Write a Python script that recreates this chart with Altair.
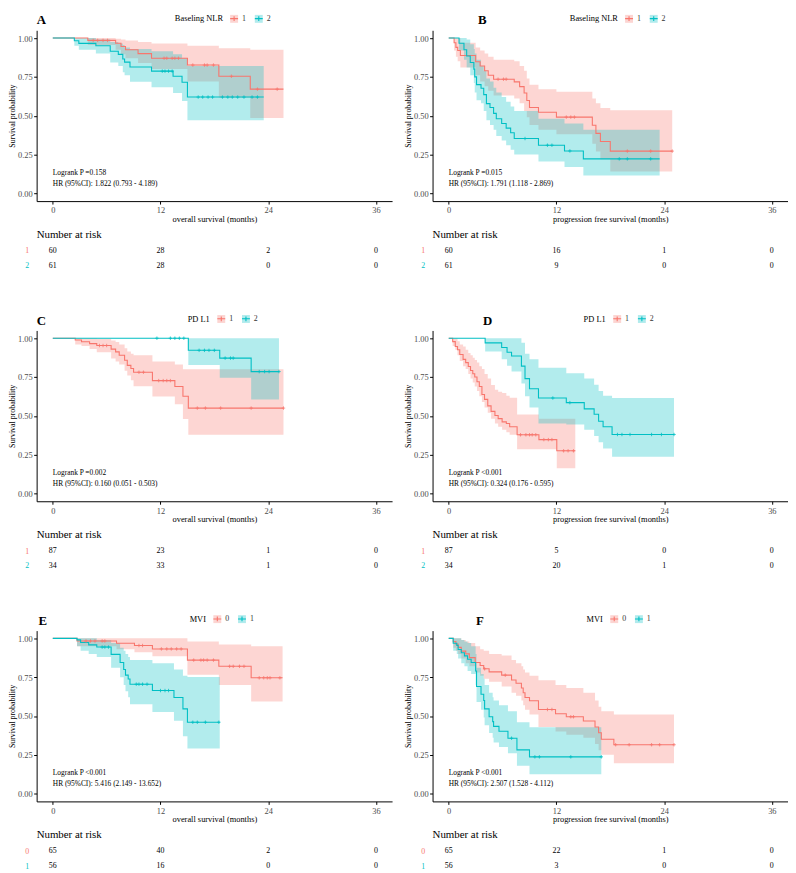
import altair as alt
import pandas as pd

RED = "#F8766D"
TEAL = "#00BFC4"
FONT = "Liberation Serif"
RISK_TIMES = [0, 12, 24, 36]

# ---------------- Panel A (OS, Baseling NLR) ----------------
A1_T = [0, 3.9, 7.0, 7.6, 8.1, 9.5, 11.0, 15.0, 18.5, 22.0]
A1_S = [1, 0.985, 0.967, 0.946, 0.925, 0.90, 0.87, 0.826, 0.754, 0.671]
A1_HI = [1, 1, 0.995, 0.99, 0.985, 0.975, 0.965, 0.95, 0.935, 0.925]
A1_LO = [1, 0.955, 0.925, 0.895, 0.87, 0.84, 0.80, 0.72, 0.615, 0.485]
A1_END = 25.7
A1_CENS = [4.5, 5.0, 5.6, 6.1, 12.4, 12.7, 13.3, 13.6, 14.0, 15.6, 16.9, 17.2, 17.9, 19.9, 22.8, 25.0]
A2_T = [0, 2.4, 2.9, 4.8, 6.4, 7.3, 7.8, 8.0, 8.6, 11.0, 13.4, 14.4, 15.0]
A2_S = [1, 0.983, 0.966, 0.951, 0.915, 0.895, 0.865, 0.845, 0.814, 0.787, 0.754, 0.715, 0.62]
A2_HI = [1, 1, 1, 0.99, 0.975, 0.965, 0.955, 0.94, 0.93, 0.915, 0.895, 0.87, 0.82]
A2_LO = [1, 0.95, 0.925, 0.90, 0.843, 0.82, 0.78, 0.76, 0.718, 0.683, 0.647, 0.594, 0.47]
A2_END = 23.5
A2_CENS = [12.2, 12.5, 12.9, 13.3, 16.2, 16.7, 17.3, 17.8, 18.9, 19.5, 20.0, 20.6, 21.3, 22.2, 22.8]
A_RISK1 = [60, 28, 2, 0]
A_RISK2 = [61, 28, 0, 0]

# ---------------- Panel B (PFS, Baseling NLR) ----------------
B1_T = [0, 0.6, 0.8, 1.0, 1.3, 3.0, 3.5, 4.0, 4.4, 5.0, 7.3, 7.9, 8.4, 8.7, 9.0, 10.0, 12.0, 16.0, 16.4, 16.9, 18.0]
B1_S = [1, 0.97, 0.94, 0.92, 0.888, 0.847, 0.82, 0.79, 0.76, 0.735, 0.718, 0.687, 0.646, 0.598, 0.553, 0.522, 0.491, 0.439, 0.386, 0.334, 0.272]
B1_HI = [1, 1, 1, 1, 0.97, 0.94, 0.92, 0.90, 0.88, 0.86, 0.85, 0.82, 0.79, 0.74, 0.70, 0.67, 0.655, 0.61, 0.58, 0.55, 0.535]
B1_LO = [1, 0.92, 0.88, 0.85, 0.81, 0.76, 0.72, 0.69, 0.66, 0.63, 0.61, 0.58, 0.53, 0.49, 0.44, 0.41, 0.38, 0.32, 0.27, 0.22, 0.14]
B1_END = 24.9
B1_CENS = [5.5, 6.1, 6.4, 13.1, 13.6, 14.0, 19.9, 22.5, 24.9]
B2_T = [0, 1.15, 1.7, 2.0, 2.4, 2.8, 2.9, 3.1, 3.6, 3.9, 4.2, 4.6, 5.0, 5.3, 5.9, 6.4, 6.9, 7.3, 10.0, 12.9, 15.0]
B2_S = [1, 0.967, 0.925, 0.884, 0.843, 0.80, 0.75, 0.70, 0.677, 0.636, 0.578, 0.553, 0.515, 0.48, 0.45, 0.42, 0.39, 0.353, 0.31, 0.273, 0.222]
B2_HI = [1, 1, 1, 0.99, 0.96, 0.93, 0.90, 0.86, 0.82, 0.79, 0.74, 0.72, 0.68, 0.65, 0.62, 0.59, 0.56, 0.53, 0.48, 0.45, 0.41]
B2_LO = [1, 0.92, 0.86, 0.81, 0.76, 0.71, 0.65, 0.60, 0.58, 0.53, 0.47, 0.44, 0.41, 0.37, 0.34, 0.31, 0.28, 0.25, 0.205, 0.17, 0.115]
B2_END = 23.5
B2_CENS = [8.5, 11.0, 11.5, 13.5, 19.0, 19.9, 22.5]
B_RISK1 = [60, 16, 1, 0]
B_RISK2 = [61, 9, 0, 0]

# ---------------- Panel C (OS, PD L1) ----------------
C1_T = [0, 2.5, 3.2, 4.1, 4.9, 6.5, 7.0, 7.4, 8.0, 8.3, 8.7, 9.0, 11.1, 13.6, 14.5, 15.1]
C1_S = [1, 0.988, 0.977, 0.965, 0.953, 0.93, 0.912, 0.89, 0.858, 0.825, 0.805, 0.781, 0.727, 0.689, 0.626, 0.55]
C1_HI = [1, 1, 1, 1, 0.995, 0.985, 0.975, 0.96, 0.935, 0.915, 0.90, 0.89, 0.85, 0.83, 0.80, 0.80]
C1_LO = [1, 0.96, 0.95, 0.93, 0.91, 0.87, 0.85, 0.83, 0.79, 0.76, 0.73, 0.69, 0.625, 0.575, 0.48, 0.378]
C1_END = 25.7
C1_CENS = [5.2, 5.6, 6.0, 9.6, 10.1, 11.8, 12.3, 12.7, 13.1, 16.1, 17.0, 18.7, 22.1, 25.7]
C2_T = [0, 15.1, 18.6, 22.1]
C2_S = [1, 0.922, 0.872, 0.785]
C2_HI = [1, 1, 1, 1]
C2_LO = [1, 0.827, 0.746, 0.605]
C2_END = 25.2
C2_CENS = [11.6, 13.1, 13.6, 14.1, 14.6, 16.3, 16.9, 17.4, 18.0, 19.2, 19.8, 20.1, 23.0, 23.6, 24.1, 25.2]
C_RISK1 = [87, 23, 1, 0]
C_RISK2 = [34, 33, 1, 0]

# ---------------- Panel D (PFS, PD L1) ----------------
D1_T = [0, 0.44, 0.73, 0.98, 1.23, 1.6, 1.89, 2.18, 2.43, 2.68, 2.9, 3.15, 3.41, 3.7, 3.99, 4.35, 4.72, 5.15, 5.51, 5.95, 6.42, 6.79, 7.62, 10.05, 12.04]
D1_S = [1, 0.978, 0.947, 0.926, 0.895, 0.864, 0.843, 0.818, 0.792, 0.771, 0.75, 0.72, 0.689, 0.637, 0.606, 0.564, 0.529, 0.502, 0.482, 0.461, 0.451, 0.43, 0.378, 0.347, 0.275]
D1_HI = [1, 1, 1, 0.98, 0.96, 0.947, 0.925, 0.905, 0.89, 0.874, 0.86, 0.843, 0.82, 0.802, 0.77, 0.74, 0.699, 0.668, 0.655, 0.647, 0.63, 0.616, 0.508, 0.482, 0.482]
D1_LO = [1, 0.95, 0.926, 0.89, 0.854, 0.82, 0.802, 0.77, 0.74, 0.715, 0.689, 0.66, 0.627, 0.59, 0.554, 0.52, 0.482, 0.451, 0.43, 0.41, 0.395, 0.378, 0.285, 0.285, 0.162]
D1_END = 14.1
D1_CENS = [8.0, 8.6, 9.0, 9.3, 9.7, 10.6, 11.1, 11.5, 12.8, 13.3, 13.9]
D2_T = [0, 4.06, 5.9, 6.5, 7.0, 8.1, 8.5, 9.0, 10.0, 13.1, 15.1, 16.2, 16.7, 17.2, 18.2]
D2_S = [1, 0.97, 0.94, 0.91, 0.885, 0.82, 0.74, 0.675, 0.615, 0.585, 0.545, 0.51, 0.465, 0.43, 0.38]
D2_HI = [1, 1, 1, 1, 1, 0.97, 0.90, 0.865, 0.81, 0.775, 0.74, 0.70, 0.66, 0.63, 0.615]
D2_LO = [1, 0.915, 0.864, 0.822, 0.785, 0.709, 0.626, 0.554, 0.45, 0.445, 0.41, 0.37, 0.33, 0.29, 0.237]
D2_END = 25.1
D2_CENS = [11.6, 13.5, 18.8, 19.3, 20.2, 22.6, 23.7, 25.1]
D_RISK1 = [87, 5, 0, 0]
D_RISK2 = [34, 20, 1, 0]

# ---------------- Panel E (OS, MVI) ----------------
E1_T = [0, 2.7, 7.1, 9.1, 11.1, 15.0, 18.5, 22.1]
E1_S = [1, 0.983, 0.969, 0.954, 0.932, 0.86, 0.82, 0.746]
E1_HI = [1, 1, 1, 1, 1, 0.98, 0.96, 0.95]
E1_LO = [1, 0.95, 0.93, 0.91, 0.885, 0.765, 0.70, 0.594]
E1_END = 25.6
E1_CENS = [3.7, 4.2, 4.7, 5.5, 5.8, 9.6, 10.0, 12.1, 12.7, 13.2, 13.8, 14.3, 15.7, 16.5, 16.8, 17.2, 17.9,
           19.7, 20.1, 20.8, 21.3, 23.0, 23.5, 23.9, 24.2, 25.3]
E2_T = [0, 2.7, 3.1, 4.0, 4.9, 6.5, 7.5, 7.9, 8.1, 8.4, 8.6, 11.1, 13.5, 14.5, 15.0]
E2_S = [1, 0.99, 0.973, 0.958, 0.944, 0.897, 0.845, 0.80, 0.763, 0.738, 0.705, 0.664, 0.619, 0.546, 0.46]
E2_HI = [1, 1, 1, 1, 0.99, 0.97, 0.94, 0.92, 0.90, 0.88, 0.86, 0.84, 0.80, 0.76, 0.752]
E2_LO = [1, 0.95, 0.92, 0.90, 0.88, 0.81, 0.75, 0.70, 0.66, 0.62, 0.575, 0.525, 0.47, 0.37, 0.29]
E2_END = 18.6
E2_CENS = [5.5, 5.8, 6.2, 9.3, 9.6, 10.0, 10.5, 12.0, 12.5, 12.9, 15.6, 16.1, 17.0, 18.5]
E_RISK1 = [65, 40, 2, 0]
E_RISK2 = [56, 16, 0, 0]

# ---------------- Panel F (PFS, MVI) ----------------
F1_T = [0, 0.5, 0.8, 1.05, 1.4, 1.9, 2.3, 2.95, 3.5, 3.9, 4.5, 5.9, 7.0, 7.5, 8.1, 8.3, 8.5, 9.0, 10.0, 11.9, 13.1, 15.0, 16.3, 16.7, 17.0, 18.4]
F1_S = [1, 0.979, 0.963, 0.942, 0.918, 0.9, 0.876, 0.845, 0.825, 0.804, 0.784, 0.763, 0.732, 0.711, 0.68, 0.65, 0.619, 0.598, 0.542, 0.515, 0.495, 0.468, 0.429, 0.392, 0.35, 0.315]
F1_HI = [1, 1, 1, 1, 0.99, 0.98, 0.97, 0.95, 0.93, 0.92, 0.90, 0.89, 0.86, 0.84, 0.82, 0.80, 0.78, 0.76, 0.73, 0.70, 0.68, 0.65, 0.60, 0.56, 0.53, 0.51]
F1_LO = [1, 0.94, 0.92, 0.90, 0.87, 0.84, 0.82, 0.78, 0.76, 0.74, 0.72, 0.69, 0.65, 0.63, 0.60, 0.57, 0.54, 0.51, 0.43, 0.40, 0.38, 0.36, 0.32, 0.28, 0.25, 0.195]
F1_END = 25.1
F1_CENS = [4.0, 6.3, 11.0, 11.5, 13.6, 13.9, 18.6, 20.1, 22.6, 23.5, 25.1]
F2_T = [0, 0.5, 0.9, 1.05, 1.4, 1.75, 2.1, 2.5, 3.0, 3.1, 3.6, 3.9, 4.0, 4.5, 4.9, 5.0, 5.6, 6.6, 7.6, 9.0]
F2_S = [1, 0.969, 0.955, 0.928, 0.907, 0.887, 0.866, 0.845, 0.79, 0.69, 0.64, 0.60, 0.546, 0.495, 0.464, 0.433, 0.402, 0.357, 0.282, 0.237]
F2_HI = [1, 1, 1, 1, 0.99, 0.98, 0.97, 0.95, 0.90, 0.81, 0.77, 0.74, 0.70, 0.65, 0.62, 0.60, 0.57, 0.53, 0.46, 0.427]
F2_LO = [1, 0.92, 0.90, 0.87, 0.84, 0.82, 0.79, 0.77, 0.70, 0.59, 0.54, 0.49, 0.44, 0.39, 0.36, 0.33, 0.30, 0.26, 0.18, 0.125]
F2_END = 17.0
F2_CENS = [7.0, 9.6, 10.1, 13.6, 17.0]
F_RISK1 = [65, 22, 1, 0]
F_RISK2 = [56, 3, 0, 0]

W = 360
H = 173


def step_value(ts, vs, x):
    val = vs[0]
    for t, v in zip(ts, vs):
        if t <= x:
            val = v
    return val


def curve_rows(grp, ts, ss, los, his, end):
    rows = [dict(grp=grp, grpf=grp + " ", t=t, s=s, lo=lo, hi=hi) for t, s, lo, hi in zip(ts, ss, los, his)]
    rows.append(dict(grp=grp, grpf=grp + " ", t=end, s=ss[-1], lo=los[-1], hi=his[-1]))
    return rows


def legend_common(title, leg_x):
    return dict(title=title, orient="none", legendX=leg_x, legendY=-17, direction="horizontal",
                titleOrient="left", symbolSize=64, symbolStrokeWidth=1.1, labelFontSize=8,
                titleFontSize=8.5, titleFontWeight="normal", labelOffset=3, columnPadding=6,
                titlePadding=6, padding=0)


def panel(letter, letter_dx, leg_title, leg_x, groups, c1, c2, xtitle, ptxt, hrtxt, risk1, risk2):
    cdf = pd.DataFrame(curve_rows(groups[0], *c1[:5]) + curve_rows(groups[1], *c2[:5]))
    cens = []
    for g, c in ((groups[0], c1), (groups[1], c2)):
        for x in c[5]:
            cens.append(dict(grp=g, t=x, s=step_value(c[0], c[1], x)))
    cens_df = pd.DataFrame(cens)

    xs = alt.Scale(domain=[-1.8, 37.8], nice=False, zero=False)
    ys = alt.Scale(domain=[-0.05, 1.05], nice=False, zero=False)
    cs = alt.Scale(domain=groups, range=[RED, TEAL])
    fs = alt.Scale(domain=[g + " " for g in groups], range=[RED, TEAL])
    xax = alt.Axis(values=RISK_TIMES, title=xtitle, grid=False, domainColor="black", tickColor="black",
                   tickSize=3, labelColor="#4D4D4D", labelFontSize=8.5, titleFontSize=8.5,
                   titleFontWeight="normal", labelPadding=2, titlePadding=0, titleColor="black")
    yax = alt.Axis(values=[0, 0.25, 0.5, 0.75, 1.0], format=".2f", title="Survival probability", grid=False,
                   domainColor="black", tickColor="black", tickSize=3, labelColor="#4D4D4D",
                   labelFontSize=8.5, titleFontSize=8, titleFontWeight="normal", labelPadding=1.5,
                   titlePadding=1, titleColor="black")

    band = alt.Chart(cdf).mark_area(interpolate="step-after", opacity=0.3).encode(
        x=alt.X("t:Q", scale=xs, axis=xax),
        y=alt.Y("hi:Q", scale=ys, axis=yax),
        y2="lo:Q",
        fill=alt.Fill("grpf:N", scale=fs, legend=alt.Legend(
            symbolType="square", symbolOpacity=0.3, symbolStrokeColor="transparent",
            titleColor="transparent", labelColor="transparent", labelExpr="trim(datum.label)",
            **legend_common(leg_title, leg_x))),
    )
    line = alt.Chart(cdf).mark_line(interpolate="step-after", strokeWidth=1.1).encode(
        x=alt.X("t:Q", scale=xs),
        y=alt.Y("s:Q", scale=ys),
        color=alt.Color("grp:N", scale=cs, legend=alt.Legend(
            symbolType="M-1,0H1M0,-0.6V0.6", symbolOpacity=1, titleColor="black",
            labelColor="#333333", **legend_common(leg_title, leg_x))),
    )
    pts = alt.Chart(cens_df).mark_point(shape="M0,-1V1M-1,0H1", size=12, strokeWidth=0.8, filled=False,
                                        opacity=1).encode(
        x=alt.X("t:Q", scale=xs),
        y=alt.Y("s:Q", scale=ys),
        color=alt.Color("grp:N", scale=cs),
    )
    t1 = alt.Chart(pd.DataFrame({"label": [ptxt]})).mark_text(
        align="left", baseline="middle", font=FONT, fontSize=7.5, color="black").encode(
        x=alt.datum(0), y=alt.datum(0.13), text="label:N")
    t2 = alt.Chart(pd.DataFrame({"label": [hrtxt]})).mark_text(
        align="left", baseline="middle", font=FONT, fontSize=7.5, color="black").encode(
        x=alt.datum(0), y=alt.datum(0.063), text="label:N")

    km = alt.layer(band, line, pts, t1, t2).properties(
        width=W, height=H,
        title=alt.TitleParams(letter, anchor="start", frame="group", dx=letter_dx, fontSize=13,
                              fontWeight="bold", font=FONT, offset=-14, color="black"),
    )

    rdf = pd.DataFrame({
        "grp": [groups[0]] * 4 + [groups[1]] * 4,
        "t": RISK_TIMES * 2,
        "n": risk1 + risk2,
    })
    label_color = {"condition": {"test": f"datum.value == '{groups[0]}'", "value": RED}, "value": TEAL}
    risk = alt.Chart(rdf).mark_text(font=FONT, fontSize=8, color="black").encode(
        x=alt.X("t:Q", scale=xs, axis=None),
        y=alt.Y("grp:N", sort=groups, scale=alt.Scale(domain=groups),
                axis=alt.Axis(title=None, domain=False, ticks=False, labelColor=label_color,
                              labelFontSize=8, labelPadding=8)),
        text="n:Q",
    ).properties(
        width=W, height=30,
        title=alt.TitleParams("Number at risk", anchor="start", frame="group", fontSize=11,
                              fontWeight="normal", font=FONT, offset=4, color="black"),
    )
    return alt.vconcat(km, risk, spacing=6).resolve_scale(
        x="independent", y="independent", color="independent", fill="independent").resolve_legend(
        color="independent", fill="independent")


OS = "overall survival (months)"
PFS = "progression free survival (months)"

pA = panel("A", 0, "Baseling NLR", 140, ["1", "2"],
           (A1_T, A1_S, A1_LO, A1_HI, A1_END, A1_CENS), (A2_T, A2_S, A2_LO, A2_HI, A2_END, A2_CENS),
           OS, "Logrank P =0.158", "HR (95%CI): 1.822 (0.793 - 4.189)", A_RISK1, A_RISK2)
pB = panel("B", 46, "Baseling NLR", 139, ["1", "2"],
           (B1_T, B1_S, B1_LO, B1_HI, B1_END, B1_CENS), (B2_T, B2_S, B2_LO, B2_HI, B2_END, B2_CENS),
           PFS, "Logrank P =0.015", "HR (95%CI): 1.791 (1.118 - 2.869)", B_RISK1, B_RISK2)
pC = panel("C", 0, "PD L1", 153, ["1", "2"],
           (C1_T, C1_S, C1_LO, C1_HI, C1_END, C1_CENS), (C2_T, C2_S, C2_LO, C2_HI, C2_END, C2_CENS),
           OS, "Logrank P =0.002", "HR (95%CI): 0.160 (0.051 - 0.503)", C_RISK1, C_RISK2)
pD = panel("D", 51, "PD L1", 153, ["1", "2"],
           (D1_T, D1_S, D1_LO, D1_HI, D1_END, D1_CENS), (D2_T, D2_S, D2_LO, D2_HI, D2_END, D2_CENS),
           PFS, "Logrank P <0.001", "HR (95%CI): 0.324 (0.176 - 0.595)", D_RISK1, D_RISK2)
pE = panel("E", 2, "MVI", 155, ["0", "1"],
           (E1_T, E1_S, E1_LO, E1_HI, E1_END, E1_CENS), (E2_T, E2_S, E2_LO, E2_HI, E2_END, E2_CENS),
           OS, "Logrank P <0.001", "HR (95%CI): 5.416 (2.149 - 13.652)", E_RISK1, E_RISK2)
pF = panel("F", 44, "MVI", 156, ["0", "1"],
           (F1_T, F1_S, F1_LO, F1_HI, F1_END, F1_CENS), (F2_T, F2_S, F2_LO, F2_HI, F2_END, F2_CENS),
           PFS, "Logrank P <0.001", "HR (95%CI): 2.507 (1.528 - 4.112)", F_RISK1, F_RISK2)


def row(a, b):
    return alt.hconcat(a, b, spacing=12).resolve_scale(
        color="independent", fill="independent", x="independent", y="independent").resolve_legend(
        color="independent", fill="independent")


chart = alt.vconcat(row(pA, pB), row(pC, pD), row(pE, pF), spacing=41).resolve_scale(
    color="independent", fill="independent", x="independent", y="independent").resolve_legend(
    color="independent", fill="independent").properties(
    padding=0
).configure_view(stroke=None).configure_axis(labelFont=FONT, titleFont=FONT).configure_legend(
    labelFont=FONT, titleFont=FONT).configure_title(font=FONT).configure_text(font=FONT)

chart.save("out.html", embed_options={"renderer": "svg", "actions": False})
